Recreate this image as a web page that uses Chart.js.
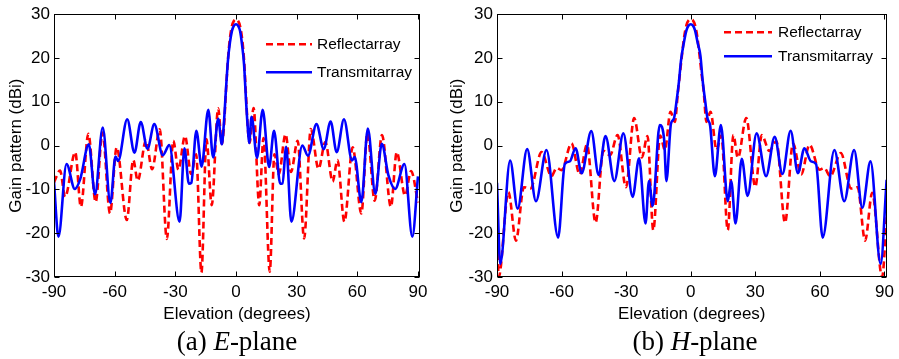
<!DOCTYPE html>
<html>
<head>
<meta charset="utf-8">
<script src="https://cdn.jsdelivr.net/npm/chart.js@4.4.1/dist/chart.umd.min.js"></script>
<style>
  body { margin: 0; background: #fff; width: 899px; height: 359px; overflow: hidden; position: relative; }
  canvas { position: absolute; top: 0; }
  #eChart { left: 0; }
  #hChart { left: 441px; }
  .caption { position: absolute; top: 328px; font-family: 'Liberation Serif', 'Times New Roman', serif;
             font-size: 27px; line-height: 27px; color: #000; text-align: center; white-space: nowrap; }
</style>
</head>
<body>
<canvas id="eChart" width="440" height="330"></canvas>
<canvas id="hChart" width="458" height="330"></canvas>
<div class="caption" style="left:0;width:474px">(a) <i>E</i>-plane</div>
<div class="caption" style="left:491px;width:408px">(b) <i>H</i>-plane</div>
<script>
// tick labels
const xTicks = [-90, -60, -30, 0, 30, 60, 90];
const yTicks = [-30, -20, -10, 0, 10, 20, 30];

// (a) E-plane
const eRefAngle = [-90, -87, -84.5, -79.5, -76.7, -73, -69.4, -66, -62.3, -59, -54, -50.8, -48.6, -44.5, -41.5, -37.7, -34.2, -31, -28.5, -25.2, -22.2, -19.7, -17.1, -14.6, -12, -8.8, -7, -6, -5, -4, -3, -2, -1, 0,
                   1, 2, 3, 4, 5, 6, 6.7, 8.7, 11.5, 13.6, 16.7, 19, 21.2, 24.5, 27.2, 30.5, 33.7, 37, 40.8, 44.2, 47.8, 50.2, 53.6, 57.7, 62, 65, 68.6, 72.2, 76.6, 79.5, 83.6, 86.6, 90];
const eRefGain = [-8.4, -5.7, -11.7, -1.5, -14, 2.7, -12.9, 3, -15.5, -0.4, -17, -3.3, -8, 1.2, -5.4, 3.7, -21.3, 1.1, -5.5, 2.2, -6.5, -2, -29, 1.5, -13.6, 8.5, 0.4, 4, 12, 19.5, 24.5, 27.3, 28.5, 28.8,
                  28.5, 27.3, 24.5, 19.5, 11, 3, 0.6, 8.6, -13.6, 1.7, -28.8, -2, -6.5, 2.6, -6, 1.1, -21.2, 3.8, -5.3, 0.8, -8.2, -3.3, -17.4, -0.4, -15.5, 2.8, -12.6, 2.4, -14, -1.5, -11.4, -5.8, -13];
const eTraAngle = [-90, -87.8, -83.8, -79.7, -77, -72.8, -69.7, -65.9, -62.1, -59.6, -58.3, -53.8, -50.2, -47.1, -43.8, -40.4, -36.2, -33, -27.9, -25.5, -23.3, -22.1, -19.6, -17, -13.7, -11.3, -8.8, -7, -6, -5, -4, -3, -2, -1, 0,
                   1, 2, 3, 4, 5, 6, 6.5, 7.7, 10.4, 13.2, 16.4, 18.8, 21.9, 23, 24.8, 27.4, 32.8, 35.6, 39.8, 43.4, 46.8, 49.8, 53.4, 57.4, 58.7, 62, 65.2, 68.9, 72.1, 75.4, 78.7, 83.3, 87.2, 90];
const eTraGain = [-8.3, -20.8, -4.2, -9.9, -7.6, 0.3, -11.1, 4.1, -13.1, -2.5, -3.5, 6, -1.6, 5.4, -0.7, 4.9, -2.2, 0.1, -17.4, -0.6, -8.7, -8.5, 3.4, -4.8, 8.2, -2.7, 6.1, 0.3, 5, 12.5, 19.3, 23.5, 26.2, 27.4, 27.7,
                  27.4, 26.2, 23, 18.5, 10, 3, 0.6, 6.6, -2.8, 8.2, -4.9, 3.4, -8.7, -8.6, -0.3, -17.4, 0, -2.3, 4.9, -0.8, 5.5, -1.5, 6, -3.4, -2.6, -12.9, 3.9, -11, 0.4, -6.8, -9.9, -4.2, -20.8, -7];

// (b) H-plane
const hRefAngle = [-90, -89.2, -84.7, -81.2, -77.5, -74.5, -69.3, -64.7, -62.3, -60, -55.4, -51.6, -48.2, -44.2, -40.6, -37.5, -34, -30.1, -26.3, -22.7, -20.1, -17.4, -14.2, -12, -9.4, -7.4, -6, -5, -4, -3, -2, -1, 0,
                   1, 2, 3, 4, 5, 6, 7.3, 9.2, 12, 14.2, 17.2, 19.8, 21.9, 25.8, 30, 33, 36.5, 39.8, 43.8, 47.5, 51.3, 55.2, 59.8, 62, 64.8, 69.7, 74.5, 77.5, 81, 84.3, 88.9, 91];
const hRefGain = [-19.5, -30, -10.6, -21.7, -9.5, -9.8, -1.5, -7, -5.1, -5.6, 0.5, -6.6, 0.2, -17.6, -1.2, -2.2, 2.4, -9.5, 6.3, -2.7, 2.2, -19.3, 2.3, -1, 7.7, 5.4, 12, 16.5, 21, 25, 27.5, 28.6, 28.8,
                  28.6, 27.5, 25, 21, 16.5, 12.5, 5.4, 7.7, -1, 2.3, -19.3, 2.4, -2.8, 6.3, -9.4, 2.4, -1.2, 1, -17.6, 0.5, -6.6, 0.2, -5.5, -5.1, -7, -1.7, -9.8, -9.5, -21.7, -10.8, -30, -16.4];
const hTraAngle = [-90, -88.5, -83.9, -80.4, -76, -71.9, -67, -61.6, -58.5, -56.2, -53.5, -50.7, -46.2, -42.8, -39.6, -35.5, -31.3, -27, -24, -21, -19.4, -17.7, -14.4, -12.4, -11.3, -9.2, -7.8, -6.5, -5.5, -4.5, -3.2, -2, -1, 0,
                   1, 2, 3.2, 4.5, 5.5, 6.8, 7.8, 9, 11.2, 14, 17.2, 18.8, 20.8, 23.7, 26.4, 30.6, 35, 39, 42.6, 46.4, 49.8, 52.8, 55.9, 58.2, 61.3, 66.7, 71.3, 75.9, 79.7, 83.5, 88.2, 91];
const hTraGain = [-8.5, -27, -3.4, -14.4, -0.8, -12.7, -1, -21, -4.2, -3.6, -0.6, -6.3, 3.3, -6.7, 2.2, -8.1, 2.8, -11.7, -2.9, -17.8, -8.1, -13.8, 4.7, 1.6, -8.1, 5, 6.2, 10.5, 14.5, 19.5, 23.5, 26.3, 27.4, 27.7,
                  27.4, 26.3, 23.5, 20.5, 15, 9.8, 6.2, 4.6, -7, 4.7, -12.7, -8.1, -17.8, -3, -11.5, 2.8, -7, 2, -6.5, 3.4, -6.3, -0.6, -3.6, -4.2, -21, -1, -12.7, -1, -14.2, -3.6, -27, -7.8];

Chart.defaults.font.family = "'Liberation Sans', Arial, Helvetica, sans-serif";
Chart.defaults.color = '#000';

// box round the plot with inward ticks, like the original figure
const framePlugin = {
    id: 'frame',
    afterDraw(chart) {
        const { ctx, chartArea: a, scales } = chart;
        const L = Math.round(a.left) + 0.5, R = Math.round(a.right) - 0.5;
        const T = Math.round(a.top) + 0.5, B = Math.round(a.bottom) - 0.5;
        ctx.save();
        ctx.strokeStyle = '#000';
        ctx.lineWidth = 1;
        ctx.strokeRect(L, T, R - L, B - T);
        ctx.beginPath();
        scales.x.ticks.forEach(t => {
            const px = Math.round(scales.x.getPixelForValue(t.value)) + 0.5;
            ctx.moveTo(px, B); ctx.lineTo(px, B - 5);
            ctx.moveTo(px, T); ctx.lineTo(px, T + 5);
        });
        scales.y.ticks.forEach(t => {
            const py = Math.round(scales.y.getPixelForValue(t.value)) + 0.5;
            ctx.moveTo(L, py); ctx.lineTo(L + 5, py);
            ctx.moveTo(R, py); ctx.lineTo(R - 5, py);
        });
        ctx.stroke();
        ctx.restore();
    }
};

// legend drawn inside the plot, top right
const insideLegend = {
    id: 'insideLegend',
    afterDraw(chart, args, opts) {
        const { ctx, chartArea: a } = chart;
        chart.data.datasets.forEach((ds, i) => {
            const y = a.top + opts.top + i * opts.gap;
            const x0 = a.left + opts.left;
            ctx.save();
            ctx.strokeStyle = ds.borderColor;
            ctx.lineWidth = ds.borderWidth;
            ctx.setLineDash(ds.borderDash || []);
            ctx.beginPath();
            ctx.moveTo(x0, y);
            ctx.lineTo(x0 + opts.len, y);
            ctx.stroke();
            ctx.setLineDash([]);
            ctx.fillStyle = '#000';
            ctx.font = "15.5px 'Liberation Sans', Arial, sans-serif";
            ctx.textBaseline = 'middle';
            ctx.fillText(ds.label, x0 + opts.len + opts.textGap, y + 1);
            ctx.restore();
        });
    }
};

function toPoints(angles, gains) {
    return angles.map((a, i) => ({ x: a, y: gains[i] }));
}

function makeChart(id, refAngle, refGain, traAngle, traGain, pad, yWidth, legendOpts) {
    const ctx = document.getElementById(id).getContext('2d');
    return new Chart(ctx, {
        type: 'line',
        data: {
            datasets: [
                {
                    label: 'Reflectarray',
                    data: toPoints(refAngle, refGain),
                    borderColor: '#ff0000',
                    borderWidth: 2.6,
                    borderDash: [7, 4],
                    pointRadius: 0,
                    fill: false,
                    cubicInterpolationMode: 'monotone',
                    order: 1
                },
                {
                    label: 'Transmitarray',
                    data: toPoints(traAngle, traGain),
                    borderColor: '#0000ff',
                    borderWidth: 2.6,
                    pointRadius: 0,
                    fill: false,
                    cubicInterpolationMode: 'monotone',
                    order: 0
                }
            ]
        },
        options: {
            responsive: false,
            animation: false,
            layout: { padding: pad },
            plugins: {
                legend: { display: false },
                tooltip: { enabled: false },
                insideLegend: legendOpts
            },
            scales: {
                x: {
                    type: 'linear',
                    min: -90,
                    max: 91,
                    grid: { display: false, drawTicks: false },
                    border: { display: false },
                    afterBuildTicks: s => { s.ticks = xTicks.map(v => ({ value: v })); },
                    afterFit: s => { s.height = 53; },
                    ticks: { padding: 5, color: '#000', font: { size: 17 } },
                    title: { display: true, text: 'Elevation (degrees)', color: '#000', font: { size: 17 }, padding: { top: 0, bottom: 5 } }
                },
                y: {
                    min: -30,
                    max: 30,
                    grid: { display: false, drawTicks: false },
                    border: { display: false },
                    afterBuildTicks: s => { s.ticks = yTicks.map(v => ({ value: v })); },
                    afterFit: s => { s.width = yWidth; },
                    ticks: { padding: 4, color: '#000', font: { size: 17 } },
                    title: { display: true, text: 'Gain pattern (dBi)', color: '#000', font: { size: 17 }, padding: { top: 6, bottom: 0 } }
                }
            }
        },
        plugins: [framePlugin, insideLegend]
    });
}

makeChart('eChart', eRefAngle, eRefGain, eTraAngle, eTraGain,
    { left: 0, top: 13, right: 20, bottom: 0 }, 54,
    { left: 212, top: 30, gap: 28, len: 46, textGap: 5 });
makeChart('hChart', hRefAngle, hRefGain, hTraAngle, hTraGain,
    { left: 0, top: 12, right: 11, bottom: 0 }, 56,
    { left: 227, top: 18, gap: 24, len: 48, textGap: 6 });
</script>
</body>
</html>
